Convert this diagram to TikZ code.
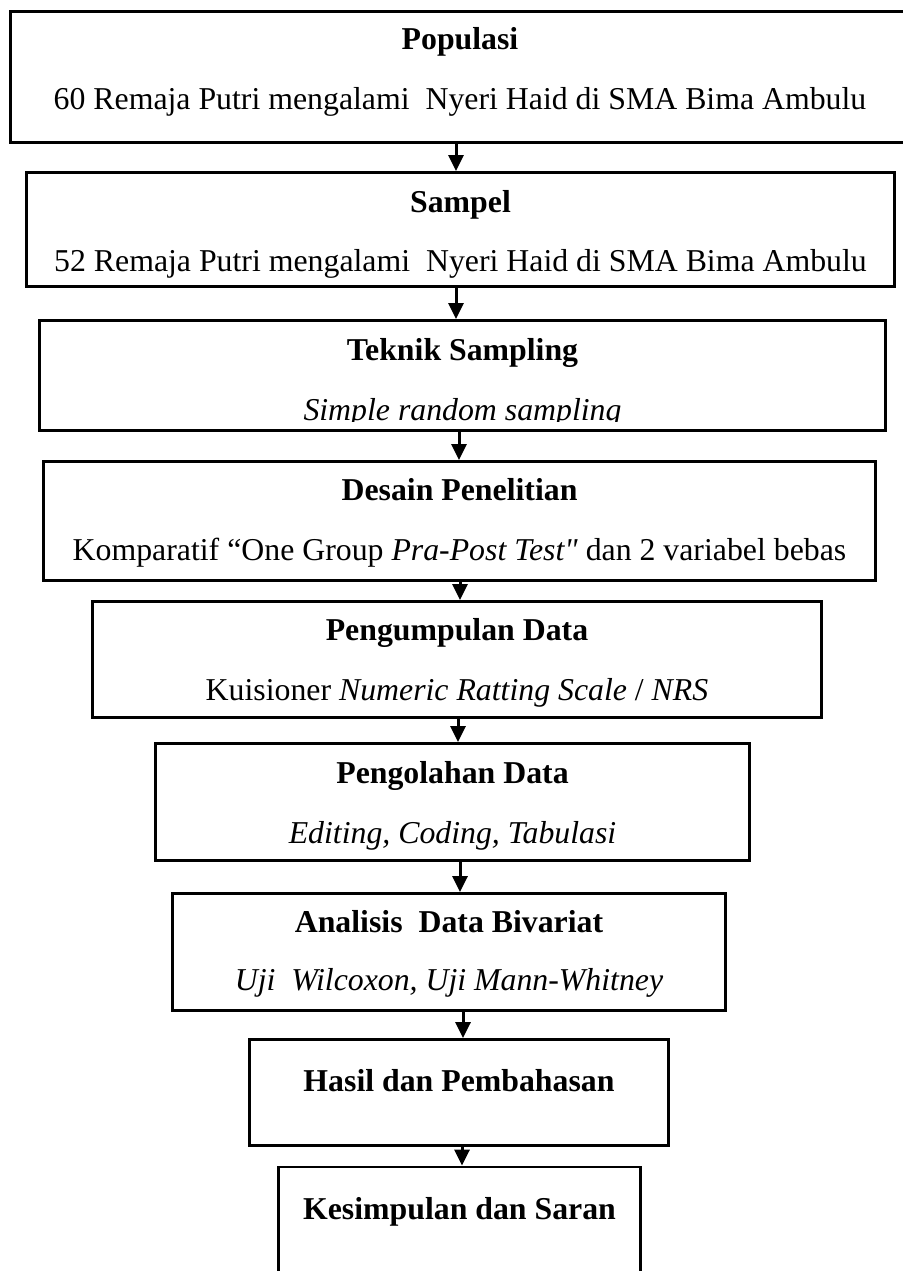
\documentclass[tikz,border=0pt]{standalone}
\usepackage{fontspec}
\setmainfont{Liberation Serif}
\newfontfamily\rawserif{Liberation Serif}
\usetikzlibrary{arrows.meta}
\tikzset{
  box/.style={draw, line width=2.8pt, inner sep=0pt},
  ttl/.style={anchor=base, inner sep=0pt, font=\fontsize{31.8}{38}\selectfont\bfseries},
  sub/.style={anchor=base, inner sep=0pt, font=\fontsize{31.8}{38}\selectfont},
  arr/.style={line width=3pt, -{Triangle[length=16pt,width=15pt]}}
}
\begin{document}
\begin{tikzpicture}[x=1pt,y=-1pt]
    \useasboundingbox (0,0) rectangle (902,1271);
    % boxes
    \node[box, minimum width=899pt, minimum height=131pt] (b1) at (460,77) {};
    \node[box, minimum width=868pt, minimum height=114pt] (b2) at (460.5,229.5) {};
    \node[box, minimum width=846pt, minimum height=110pt] (b3) at (462.5,375.5) {};
    \node[box, minimum width=832pt, minimum height=119pt] (b4) at (459.5,521) {};
    \node[box, minimum width=729pt, minimum height=116pt] (b5) at (457,659.5) {};
    \node[box, minimum width=594pt, minimum height=117pt] (b6) at (452.5,802) {};
    \node[box, minimum width=553pt, minimum height=117pt] (b7) at (449,952) {};
    \node[box, minimum width=419pt, minimum height=106pt] (b8) at (459,1092.5) {};
    \node[box, minimum width=362pt, minimum height=142pt] (b9) at (459.5,1238) {};
    % texts
    \node[ttl] (t1) at (460,50) {Populasi};
    \node[sub] (s1) at (460,110) {60 Remaja Putri mengalami~ Nyeri Haid di SMA Bima Ambulu};
    \node[ttl] (t2) at (460.5,212) {Sampel};
    \node[sub] (s2) at (460.5,271) {52 Remaja Putri mengalami~ Nyeri Haid di SMA Bima Ambulu};
    \node[ttl] (t3) at (462.5,360) {Teknik Sampling};
    \begin{scope}
    \clip (0,0) rectangle (902,421);
    \node[sub] (s3) at (462.5,420) {\itshape Simple random sampling};
    \end{scope}
    \node[ttl] (t4) at (459.5,500) {Desain Penelitian};
    \node[sub] (s4) at (459.5,560) {Komparatif “One Group \textit{Pra-Post Test{\rawserif"}} dan 2 variabel bebas};
    \node[ttl] (t5) at (457,640) {Pengumpulan Data};
    \node[sub] (s5) at (457,700) {Kuisioner \textit{Numeric Ratting Scale} / \textit{NRS}};
    \node[ttl] (t6) at (452.5,783) {Pengolahan Data};
    \node[sub] (s6) at (452.5,843) {\itshape Editing, Coding, Tabulasi};
    \node[ttl] (t7) at (449,932) {Analisis~ Data Bivariat};
    \node[sub] (s7) at (449,990) {\itshape Uji~ Wilcoxon, Uji Mann-Whitney};
    \node[ttl] (t8) at (459,1091) {Hasil dan Pembahasan};
    \node[ttl] (t9) at (459.5,1219) {Kesimpulan dan Saran};
    % arrows
    \foreach \a/\b/\x in {b1/b2/456, b2/b3/456, b3/b4/459, b4/b5/460,
                          b5/b6/458, b6/b7/460, b7/b8/463, b8/b9/462}
    \draw[arr] (\a.south -| \x,0) -- (\b.north -| \x,0);
\end{tikzpicture}
\end{document}
